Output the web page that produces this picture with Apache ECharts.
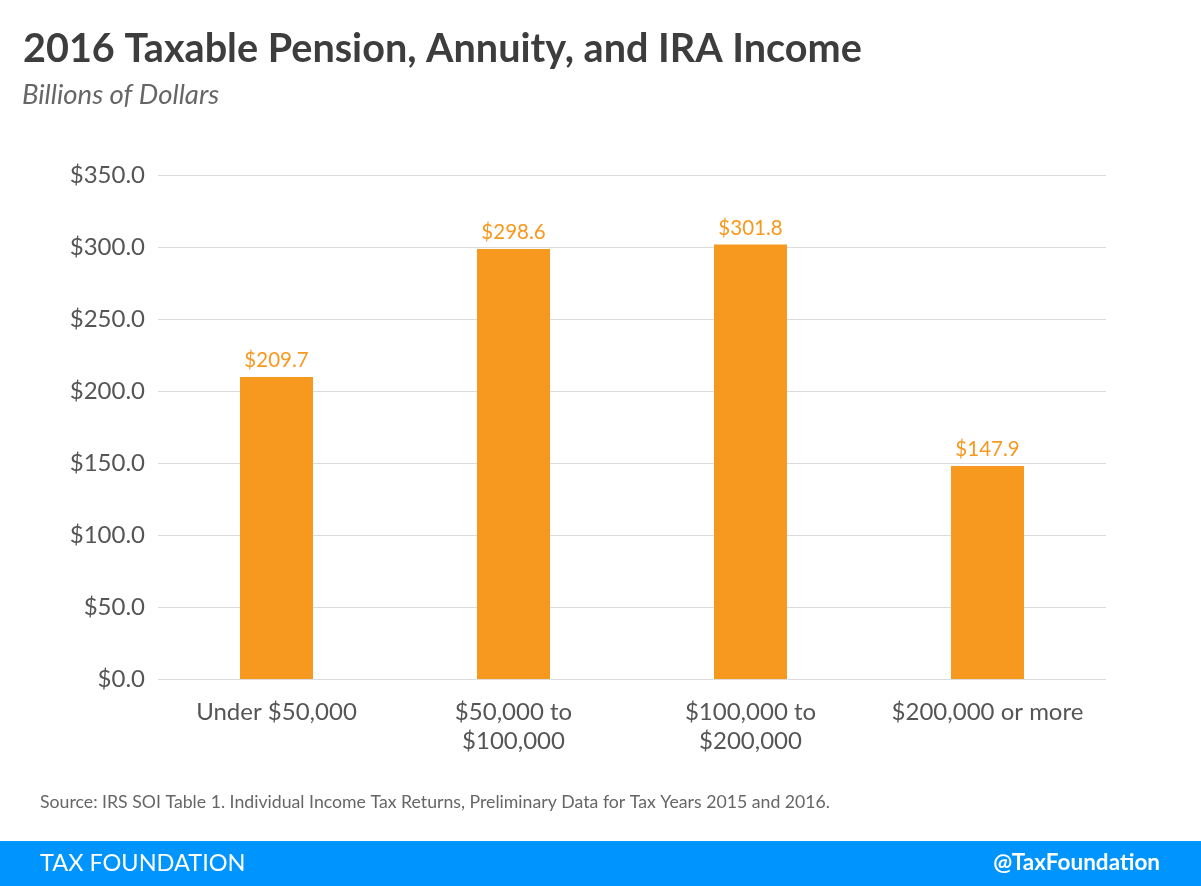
<!DOCTYPE html>
<html>
<head>
<meta charset="utf-8">
<script src="https://cdn.jsdelivr.net/npm/echarts@6/dist/echarts.min.js"></script>
<style>
	html, body { margin: 0; padding: 0; background: #fff; }
	#chart { width: 1201px; height: 886px; }
</style>
</head>
<body>
<div id="chart"></div>
<script>
var categories = ['Under $50,000', '$50,000 to\n$100,000', '$100,000 to\n$200,000', '$200,000 or more'];
var income = [209.7, 298.6, 301.8, 147.9];
var yTicks = [0, 50, 100, 150, 200, 250, 300, 350];

var chart = echarts.init(document.getElementById('chart'));
var font = 'Lato, "Open Sans", sans-serif';

var option = {
	backgroundColor: '#fff',
	textStyle: { fontFamily: font },
	title: [
		{
			text: '2016 Taxable Pension, Annuity, and IRA Income',
			left: 18,
			top: 24,
			textStyle: { fontSize: 39.6, fontWeight: 'bold', color: '#3d3d3d', fontFamily: font }
		},
		{
			text: 'Billions of Dollars',
			left: 17,
			top: 77,
			textStyle: { fontSize: 27.5, fontStyle: 'italic', fontWeight: 'normal', color: '#666', fontFamily: font }
		}
	],
	grid: { left: 158, right: 95, top: 175, bottom: 207 },
	xAxis: {
		type: 'category',
		data: categories,
		axisLine: { show: false },
		axisTick: { show: false },
		axisLabel: { interval: 0, fontSize: 24, color: '#555', margin: 19, lineHeight: 29, fontFamily: font }
	},
	yAxis: {
		type: 'value',
		min: yTicks[0],
		max: yTicks[yTicks.length - 1],
		interval: 50,
		axisLine: { show: false },
		axisTick: { show: false },
		splitLine: { lineStyle: { color: '#dcdcdc', width: 1 } },
		axisLabel: {
			fontSize: 24, color: '#555', margin: 13, fontFamily: font,
			formatter: function (v) { return '$' + v.toFixed(1); }
		}
	},
	series: [
		{
			type: 'bar',
			data: income,
			barWidth: 73,
			itemStyle: { color: '#F7991F' },
			label: {
				show: true,
				position: 'top',
				distance: 6,
				fontSize: 20.5,
				color: '#F7991F',
				fontFamily: font,
				formatter: function (p) { return '$' + p.value.toFixed(1); }
			}
		}
	],
	graphic: [
		{
			type: 'text',
			left: 40,
			top: 793,
			style: { text: 'Source: IRS SOI Table 1. Individual Income Tax Returns, Preliminary Data for Tax Years 2015 and 2016.', fill: '#666', font: '17.7px ' + font }
		},
		{
			type: 'rect',
			left: 0,
			top: 841,
			shape: { width: 1201, height: 45 },
			style: { fill: '#0094FF' }
		},
		{
			type: 'text',
			left: 40,
			top: 851,
			style: { text: 'TAX FOUNDATION', fill: '#fff', font: '23.5px ' + font }
		},
		{
			type: 'text',
			right: 41,
			top: 851,
			style: { text: '@TaxFoundation', fill: '#fff', font: 'bold 22.5px ' + font }
		}
	]
};
chart.setOption(option);
</script>
</body>
</html>
